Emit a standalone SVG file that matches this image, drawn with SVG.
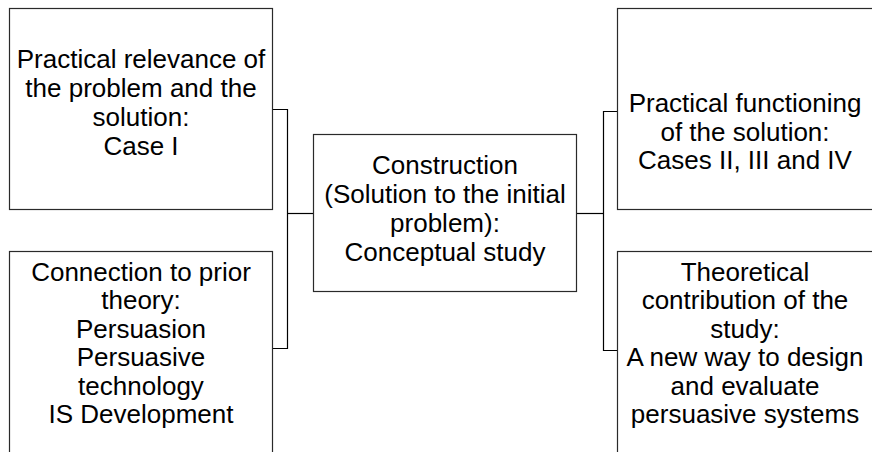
<svg xmlns="http://www.w3.org/2000/svg" width="872" height="452" viewBox="0 0 872 452">
  <style>
    .box { fill: #ffffff; stroke: #2a2a2a; stroke-width: 1.2; }
    .wire { fill: none; stroke: #000000; stroke-width: 1.2; }
    .label { font-family: "Liberation Sans", Arial, sans-serif; font-size: 26px; fill: #000000; text-anchor: middle; }
  </style>
  <rect width="872" height="452" fill="#ffffff"/>

  <!-- connectors: brackets joining the outer boxes to the central box -->
  <g id="connectors">
    <path class="wire" d="M273,109.5 H287.5 V348.5 H273"/>
    <path class="wire" d="M287.5,213.5 H313"/>
    <path class="wire" d="M577,213.5 H603.5"/>
    <path class="wire" d="M617,111.5 H603.5 V350.5 H617"/>
  </g>

  <g id="practical-relevance">
    <rect class="box" x="9.5" y="8.5" width="263" height="201"/>
    <text class="label" x="141" y="68">Practical relevance of</text>
    <text class="label" x="141" y="97">the problem and the</text>
    <text class="label" x="141" y="126">solution:</text>
    <text class="label" x="141" y="155">Case I</text>
  </g>

  <g id="prior-theory">
    <rect class="box" x="9.5" y="251.5" width="263" height="210"/>
    <text class="label" x="141" y="281">Connection to prior</text>
    <text class="label" x="141" y="309">theory:</text>
    <text class="label" x="141" y="338">Persuasion</text>
    <text class="label" x="141" y="366">Persuasive</text>
    <text class="label" x="141" y="395">technology</text>
    <text class="label" x="141" y="423">IS Development</text>
  </g>

  <g id="construction">
    <rect class="box" x="313.5" y="134.5" width="263" height="157"/>
    <text class="label" x="445" y="174">Construction</text>
    <text class="label" x="445" y="203">(Solution to the initial</text>
    <text class="label" x="445" y="232">problem):</text>
    <text class="label" x="445" y="261">Conceptual study</text>
  </g>

  <g id="practical-functioning">
    <rect class="box" x="617.5" y="8.5" width="270" height="201"/>
    <text class="label" x="745" y="112">Practical functioning</text>
    <text class="label" x="745" y="141">of the solution:</text>
    <text class="label" x="745" y="169">Cases II, III and IV</text>
  </g>

  <g id="theoretical-contribution">
    <rect class="box" x="617.5" y="251.5" width="270" height="210"/>
    <text class="label" x="745" y="281">Theoretical</text>
    <text class="label" x="745" y="309">contribution of the</text>
    <text class="label" x="745" y="338">study:</text>
    <text class="label" x="745" y="366">A new way to design</text>
    <text class="label" x="745" y="395">and evaluate</text>
    <text class="label" x="745" y="423">persuasive systems</text>
  </g>
</svg>
